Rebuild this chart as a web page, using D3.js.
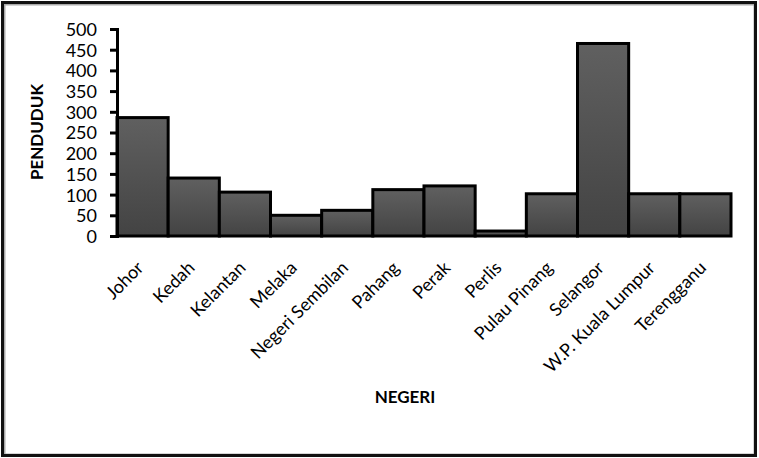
<!DOCTYPE html>
<html><head><meta charset="utf-8">
<script src="https://cdn.jsdelivr.net/npm/d3@7"></script>
<style>body{margin:0;background:#fff}svg{display:block}</style>
</head><body>
<script>
const categories = ["Johor","Kedah","Kelantan","Melaka","Negeri Sembilan","Pahang","Perak","Perlis","Pulau Pinang","Selangor","W.P. Kuala Lumpur","Terengganu"];
const values = [286,140,106,50,62,112,121,12,102,465,102,102];
const yTicks = [0,50,100,150,200,250,300,350,400,450,500];
const yTitle = "PENDUDUK";
const xTitle = "NEGERI";

const W=759,H=458;
const font = "Lato, 'Open Sans', sans-serif";
const svg=d3.select("body").append("svg").attr("width",W).attr("height",H);
const defs=svg.append("defs");
const g=defs.append("linearGradient").attr("id","bg").attr("x1",0).attr("y1",0).attr("x2",0).attr("y2",1);
g.append("stop").attr("offset","0%").attr("stop-color","#606060");
g.append("stop").attr("offset","100%").attr("stop-color","#434343");

// outer frame
svg.append("rect").attr("x",4.5).attr("y",4.5).attr("width",W-9).attr("height",H-8).attr("fill","#fff").attr("stroke","#aaa").attr("stroke-width",2);
svg.append("rect").attr("x",2.5).attr("y",2.5).attr("width",W-6).attr("height",H-5).attr("fill","none").attr("stroke","#111").attr("stroke-width",3);

const x=d3.scaleBand().domain(categories).range([117,731]).padding(0);
const y=d3.scaleLinear().domain([0,500]).range([236,29]);

// bars
svg.append("g").selectAll("rect").data(values).join("rect")
 .attr("x",(d,i)=>x(categories[i])).attr("y",d=>y(d))
 .attr("width",x.bandwidth()).attr("height",d=>y(0)-y(d))
 .attr("fill","url(#bg)").attr("stroke","#000").attr("stroke-width",3);

// y axis
const ya=svg.append("g").attr("transform","translate(117,0)")
 .call(d3.axisLeft(y).tickValues(yTicks).tickSize(7).tickPadding(13));
ya.select(".domain").attr("stroke","#000").attr("stroke-width",3);
ya.selectAll(".tick line").attr("stroke","#000").attr("stroke-width",3);
ya.selectAll("text").attr("font-family",font).attr("font-size",18).attr("fill","#000").attr("dy","0.36em");

// x labels
const xa=svg.append("g").attr("transform","translate(0,236)")
 .call(d3.axisBottom(x).tickSize(0).tickPadding(0));
xa.select(".domain").remove();
xa.selectAll(".tick text").attr("font-family",font).attr("font-size",18).attr("fill","#000")
 .attr("text-anchor","end").attr("y",0).attr("dy",0)
 .attr("transform","translate(2,33) rotate(-45)");

svg.append("text").attr("transform","translate(43,132) rotate(-90)").attr("text-anchor","middle")
 .attr("font-family",font).attr("font-weight","bold").attr("font-size",17).text(yTitle);
svg.append("text").attr("x",405).attr("y",403).attr("text-anchor","middle")
 .attr("font-family",font).attr("font-weight","bold").attr("font-size",17).text(xTitle);
</script>
</body></html>
